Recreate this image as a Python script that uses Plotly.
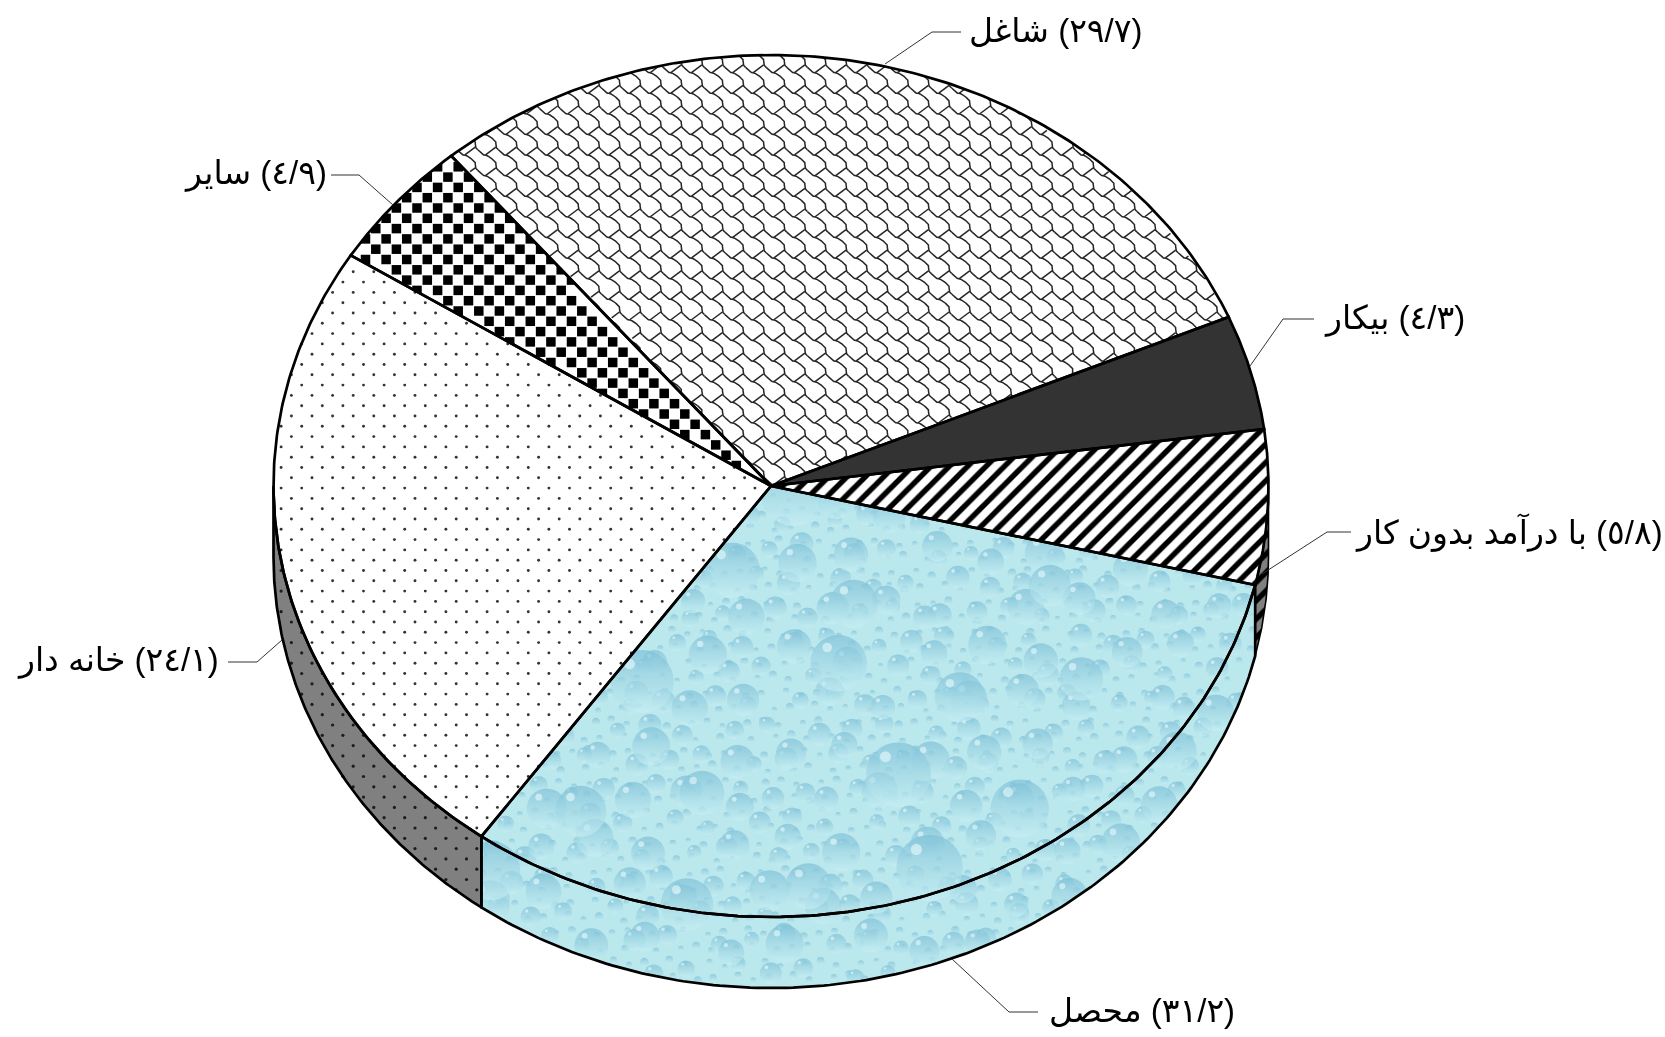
import numpy as np
import plotly.graph_objects as go

# ---------- data ----------
labels = ["شاغل", "بیکار", "با درآمد بدون کار", "محصل", "خانه دار", "سایر"]
values = [29.7, 4.3, 5.8, 31.2, 24.1, 4.9]
value_text = ["٢٩/٧", "٤/٣", "٥/٨", "٣١/٢", "٢٤/١", "٤/٩"]

# ---------- geometry / style ----------
W, H = 1665, 1037
CX, CY, RX, RY, DEPTH = 771.0, 486.0, 497.5, 431.0, 71.0
START = 130.0
edges = START - np.cumsum([0] + values) * 3.6
span = {lab: (edges[i], edges[i + 1]) for i, lab in enumerate(labels)}
KH, MO, BA, BI, SH, SA = labels[4], labels[3], labels[2], labels[1], labels[0], labels[5]
TILE = 20.6


def arc(a0, a1, dy=0.0, n=160):
    t = np.radians(np.linspace(a0, a1, n))
    return CX + RX * np.cos(t), CY + dy - RY * np.sin(t)


def wedge(a0, a1):
    x, y = arc(a0, a1)
    return np.r_[CX, x, CX], np.r_[CY, y, CY]


def wall(a0, a1):
    x0, y0 = arc(a0, a1)
    x1, y1 = arc(a1, a0, DEPTH)
    return np.r_[x0, x1, x0[0]], np.r_[y0, y1, y0[0]]


def in_wedge(x, y, a0, a1):
    u, v = (x - CX) / RX, -(y - CY) / RY
    ang = np.degrees(np.arctan2(v, u))
    rel = (a0 - ang) % 360
    return (u * u + v * v <= 1) & (rel <= a0 - a1)


def in_wall(x, y, a0, a1):
    u = (x - CX) / RX
    ok = np.abs(u) <= 1
    ang = np.degrees(np.arccos(np.clip(u, -1, 1)))
    low = -ang
    low2 = np.where(low > a0, low - 360, low)
    yt = CY + RY * np.sqrt(np.clip(1 - u * u, 0, 1))
    return ok & (y >= yt) & (y <= yt + DEPTH) & (low2 <= a0) & (low2 >= a1)


def stagger(dx, dy, ox=0.0, oy=0.0):
    ys = np.arange(oy, H, dy)
    xs, yy = [], []
    for j, yv in enumerate(ys):
        xr = np.arange(ox + (j % 2) * dx / 2, W, dx)
        xs.append(xr)
        yy.append(np.full_like(xr, yv))
    return np.concatenate(xs), np.concatenate(yy)


fig = go.Figure()


def poly(x, y, fill="#ffffff", pattern=None):
    kw = dict(fillpattern=pattern) if pattern else {}
    fig.add_trace(go.Scatter(x=x, y=y, mode="lines", fill="toself", fillcolor=fill,
                             line=dict(width=0, color=fill), hoverinfo="skip", **kw))


def outline(x, y, width=2.7):
    fig.add_trace(go.Scatter(x=x, y=y, mode="lines", line=dict(color="#000000", width=width),
                             hoverinfo="skip"))


def dots(x, y, color, size, symbol="circle", **mk):
    opacity = mk.pop("opacity", 1)
    fig.add_trace(go.Scatter(x=x, y=y, mode="markers", hoverinfo="skip", opacity=opacity,
                             marker=dict(color=color, size=size, symbol=symbol,
                                         line=dict(width=0), **mk)))


# ---------- water slice with drop texture ----------
WATER_BASE = "#bbe8ed"
mo0, mo1 = span[MO]
poly(*wedge(mo0, mo1), WATER_BASE)
poly(*wall(mo0, mo1), WATER_BASE)

drop_sets = [  # spacing x, spacing y, offset, size, highlight
    (19, 15, 3, 7, 0),
    (40, 30, 11, 19, 2),
    (66, 48, 30, 32, 4),
    (150, 104, 60, 54, 7),
]


def inside_water(x, y):
    return in_wedge(x, y, mo0, mo1) | in_wall(x, y, mo0, mo1)


phi = 0.6180339887
for sx, sy, off, sz, hl in drop_sets:
    x, y = stagger(sx, sy, off, off)
    idx = np.arange(len(x))
    # deterministic jitter so that the lattice does not read as a grid
    x = x + ((idx * phi) % 1 - 0.5) * sx * 0.5
    y = y + ((idx * phi * phi * 1.7) % 1 - 0.5) * sy * 0.5
    m = inside_water(x, y)
    x, y, idx = x[m], y[m], idx[m]
    s = sz * (0.75 + 0.5 * ((idx * 0.7548776662) % 1))
    dots(x, y, "#7abdd4", s, gradient=dict(type="vertical", color="#c6eef2"), opacity=0.95)
    if hl:
        dots(x - s * 0.2, y - s * 0.28, "#e6f8fa", s * 0.17, opacity=0.9)

# ---------- sayer (checker) ----------
sa0, sa1 = span[SA]
poly(*wedge(sa0, sa1))
x, y = stagger(TILE, TILE / 2, 5, 2)
m = in_wedge(x, y, sa0, sa1)
dots(x[m], y[m], "#000000", 9.5, "square")

# ---------- white mask around the cylinder (outer ring wound against the hole) ----------
xa, ya = arc(0, 180)
xb, yb = arc(180, 360, DEPTH)
hx, hy = np.r_[xb, xa], np.r_[yb, ya]
poly(np.r_[0, 0, W, W, 0, 0, hx, 0], np.r_[CY, 0, 0, H, H, CY, hy, CY])

# ---------- side walls ----------
kh0, kh1 = span[KH]
khw0, khw1 = mo1, -180.0
poly(*wall(khw0, khw1), "#808080")
x, y = stagger(TILE, TILE / 2, 3, 4)
m = in_wall(x, y, khw0, khw1)
dots(x[m], y[m], "#1c1c1c", 3.2)

ba0, ba1 = span[BA]
HATCH = dict(shape="/", size=13, solidity=0.42, fgcolor="#000000", fgopacity=1)
poly(*wall(0, ba1), "#808080", dict(HATCH, bgcolor="#808080"))

# ---------- top slices ----------
sh0, sh1 = span[SH]
poly(*wedge(sh0, sh1))
# shingle net, one tile is 8 units, clipped point by point to the slice
unit = TILE / 8
seg1 = np.array([[0, 1], [2, 3], [3, 3], [5, 4], [6, 5], [7, 6], [7, 8], [8, 9]], float)
seg2 = np.array([[7, 8], [3, 11]], float)
nx, ny = [], []
for i in range(int(W / TILE) + 1):
    for j in range(int(560 / TILE) + 1):
        ox, oy = i * TILE + 4, j * TILE + 3
        if not (280 < ox < 1280 and 30 < oy < 520):
            continue
        for seg in (seg1, seg2):
            t = np.linspace(0, len(seg) - 1, (len(seg) - 1) * 4 + 1)
            px = ox + unit * np.interp(t, np.arange(len(seg)), seg[:, 0])
            py = oy + unit * np.interp(t, np.arange(len(seg)), seg[:, 1])
            k = in_wedge(px, py, sh0, sh1)
            nx += [float(a) if b else None for a, b in zip(px, k)] + [None]
            ny += [float(a) if b else None for a, b in zip(py, k)] + [None]
fig.add_trace(go.Scatter(x=nx, y=ny, mode="lines", hoverinfo="skip",
                         line=dict(color="#262626", width=1.5), connectgaps=False))

bi0, bi1 = span[BI]
poly(*wedge(bi0, bi1), "#333333")
poly(*wedge(ba0, ba1), "#ffffff", dict(HATCH, bgcolor="#ffffff"))

poly(*wedge(kh0, kh1))
x, y = stagger(TILE, TILE / 2, 3, 4)
m = in_wedge(x, y, kh0, kh1)
dots(x[m], y[m], "#333333", 2.9)

# ---------- outlines ----------
for lab in labels:
    outline(*wedge(*span[lab]))
outline(*wall(khw0, khw1))
outline(*wall(0, ba1), 1.6)
outline(*wall(ba1, mo1))

# ---------- labels ----------
label_pos = {
    SH: (1055, 30, [(885, 64), (932, 32), (961, 32)]),
    BI: (1394, 318, [(1250, 366), (1283, 319), (1314, 319)]),
    BA: (1509, 532, [(1262, 574), (1327, 532), (1351, 532)]),
    SA: (255, 173, [(393, 205), (359, 175), (331, 175)]),
    KH: (118, 660, [(282, 640), (257, 662), (228, 662)]),
    MO: (1142, 1010, [(952, 959), (1009, 1012), (1038, 1012)]),
}
for lab, txt in zip(labels, value_text):
    tx, ty, leader = label_pos[lab]
    fig.add_annotation(x=tx, y=ty, xref="x", yref="y", showarrow=False,
                       text=f"{lab} \u200e({txt})\u200e",
                       font=dict(family="Liberation Sans, DejaVu Sans, Noto Sans", size=33, color="#000000"))
    path = "M " + " L ".join(f"{a},{b}" for a, b in leader)
    fig.add_shape(type="path", path=path, xref="x", yref="y",
                  line=dict(color="#333333", width=1))

fig.update_layout(width=W, height=H, margin=dict(l=0, r=0, t=0, b=0), showlegend=False,
                  paper_bgcolor="#ffffff", plot_bgcolor="#ffffff",
                  xaxis=dict(range=[0, W], visible=False, fixedrange=True),
                  yaxis=dict(range=[H, 0], visible=False, fixedrange=True))
fig.write_html("out.html", config=dict(displayModeBar=False),
               post_script="document.body.style.margin='0';document.body.style.overflow='hidden';")
